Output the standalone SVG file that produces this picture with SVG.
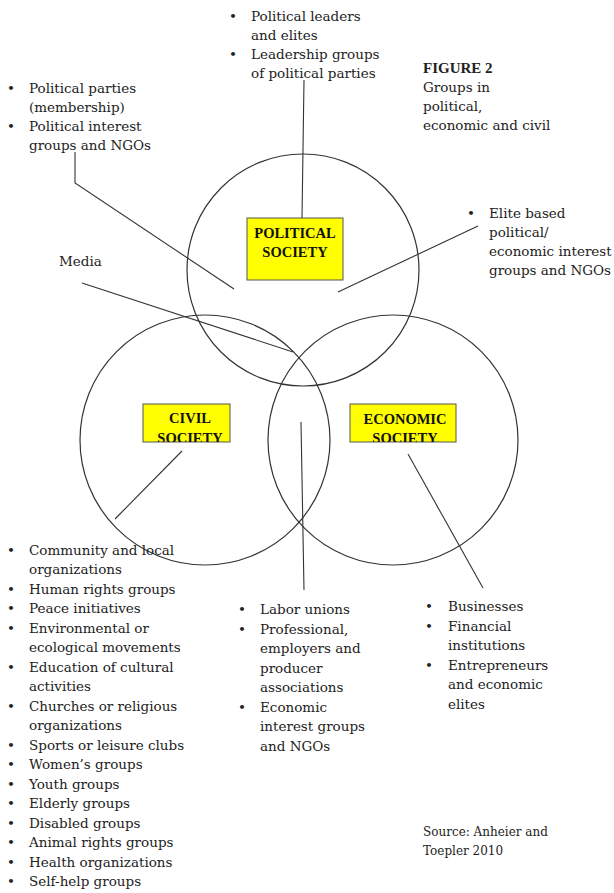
<svg xmlns="http://www.w3.org/2000/svg" width="614" height="893" viewBox="0 0 614 893">
<style>
text{font-family:"DejaVu Serif","Liberation Serif",serif;font-size:13.500px;fill:#222}
.b{font-family:"Liberation Serif",serif;font-weight:bold;font-size:15px}
.lbl{font-family:"Liberation Serif",serif;font-weight:bold;font-size:14.500px;fill:#111;text-anchor:middle}
.c{fill:none;stroke:#333;stroke-width:1.2}
.box{fill:#ffff00;stroke:#555;stroke-width:1}
.ln{fill:none;stroke:#333;stroke-width:1.1}
.s{font-size:12px}
</style>
<defs>
<clipPath id="cc"><rect x="143" y="404" width="87" height="38"/></clipPath>
<clipPath id="ce"><rect x="350" y="404" width="106" height="38"/></clipPath>
</defs>
<g id="circles">
<circle class="c" cx="303" cy="270" r="116"/>
<circle class="c" cx="205" cy="440" r="125"/>
<circle class="c" cx="393" cy="440" r="125"/>
</g>
<g id="connectors">
<path class="ln" d="M304 80 L302 218"/>
<path class="ln" d="M75 152 L75 183 L234 289"/>
<path class="ln" d="M82 283 L293 352"/>
<path class="ln" d="M478 226 L338 292"/>
<path class="ln" d="M182 451 L115 519"/>
<path class="ln" d="M301 422 L304 590"/>
<path class="ln" d="M408 454 L483 588"/>
</g>
<g id="political">
<rect class="box" x="247" y="218" width="96" height="62"/>
<text class="lbl" x="295" y="238">POLITICAL</text>
<text class="lbl" x="295" y="257">SOCIETY</text>
</g>
<g id="civil">
<rect class="box" x="143" y="404" width="87" height="38"/>
<g clip-path="url(#cc)">
<text class="lbl" x="190" y="423">CIVIL</text>
<text class="lbl" x="190" y="443">SOCIETY</text>
</g>
</g>
<g id="economic">
<rect class="box" x="350" y="404" width="106" height="38"/>
<g clip-path="url(#ce)">
<text class="lbl" x="405" y="424">ECONOMIC</text>
<text class="lbl" x="405" y="443">SOCIETY</text>
</g>
</g>
<g id="top-text">
<text x="229" y="21">•</text><text x="251" y="21">Political leaders</text>
<text x="251" y="40">and elites</text>
<text x="229" y="59">•</text><text x="251" y="59">Leadership groups</text>
<text x="251" y="78">of political parties</text>
</g>
<g id="figure-title">
<text class="b" x="423" y="73">FIGURE 2</text>
<text x="423" y="92">Groups in</text>
<text x="423" y="111">political,</text>
<text x="423" y="130">economic and civil</text>
</g>
<g id="left-top-text">
<text x="7" y="93">•</text><text x="29" y="93">Political parties</text>
<text x="29" y="112">(membership)</text>
<text x="7" y="131">•</text><text x="29" y="131">Political interest</text>
<text x="29" y="150">groups and NGOs</text>
</g>
<g id="media"><text x="59" y="266">Media</text></g>
<g id="elite-text">
<text x="467" y="218">•</text><text x="489" y="218">Elite based</text>
<text x="489" y="237">political/</text>
<text x="489" y="256">economic interest</text>
<text x="489" y="275">groups and NGOs</text>
</g>
<g id="civil-list">
<text x="7" y="555">•</text><text x="29" y="555">Community and local</text>
<text x="29" y="574">organizations</text>
<text x="7" y="594">•</text><text x="29" y="594">Human rights groups</text>
<text x="7" y="613">•</text><text x="29" y="613">Peace initiatives</text>
<text x="7" y="633">•</text><text x="29" y="633">Environmental or</text>
<text x="29" y="652">ecological movements</text>
<text x="7" y="672">•</text><text x="29" y="672">Education of cultural</text>
<text x="29" y="691">activities</text>
<text x="7" y="711">•</text><text x="29" y="711">Churches or religious</text>
<text x="29" y="730">organizations</text>
<text x="7" y="750">•</text><text x="29" y="750">Sports or leisure clubs</text>
<text x="7" y="769">•</text><text x="29" y="769">Women’s groups</text>
<text x="7" y="789">•</text><text x="29" y="789">Youth groups</text>
<text x="7" y="808">•</text><text x="29" y="808">Elderly groups</text>
<text x="7" y="828">•</text><text x="29" y="828">Disabled groups</text>
<text x="7" y="847">•</text><text x="29" y="847">Animal rights groups</text>
<text x="7" y="867">•</text><text x="29" y="867">Health organizations</text>
<text x="7" y="886">•</text><text x="29" y="886">Self-help groups</text>
</g>
<g id="center-list">
<text x="238" y="614">•</text><text x="260" y="614">Labor unions</text>
<text x="238" y="634">•</text><text x="260" y="634">Professional,</text>
<text x="260" y="653">employers and</text>
<text x="260" y="673">producer</text>
<text x="260" y="692">associations</text>
<text x="238" y="712">•</text><text x="260" y="712">Economic</text>
<text x="260" y="731">interest groups</text>
<text x="260" y="751">and NGOs</text>
</g>
<g id="economic-list">
<text x="425" y="611">•</text><text x="448" y="611">Businesses</text>
<text x="425" y="631">•</text><text x="448" y="631">Financial</text>
<text x="448" y="650">institutions</text>
<text x="425" y="670">•</text><text x="448" y="670">Entrepreneurs</text>
<text x="448" y="689">and economic</text>
<text x="448" y="709">elites</text>
</g>
<g id="source">
<text class="s" x="423" y="836">Source: Anheier and</text>
<text class="s" x="423" y="855">Toepler 2010</text>
</g>
</svg>
